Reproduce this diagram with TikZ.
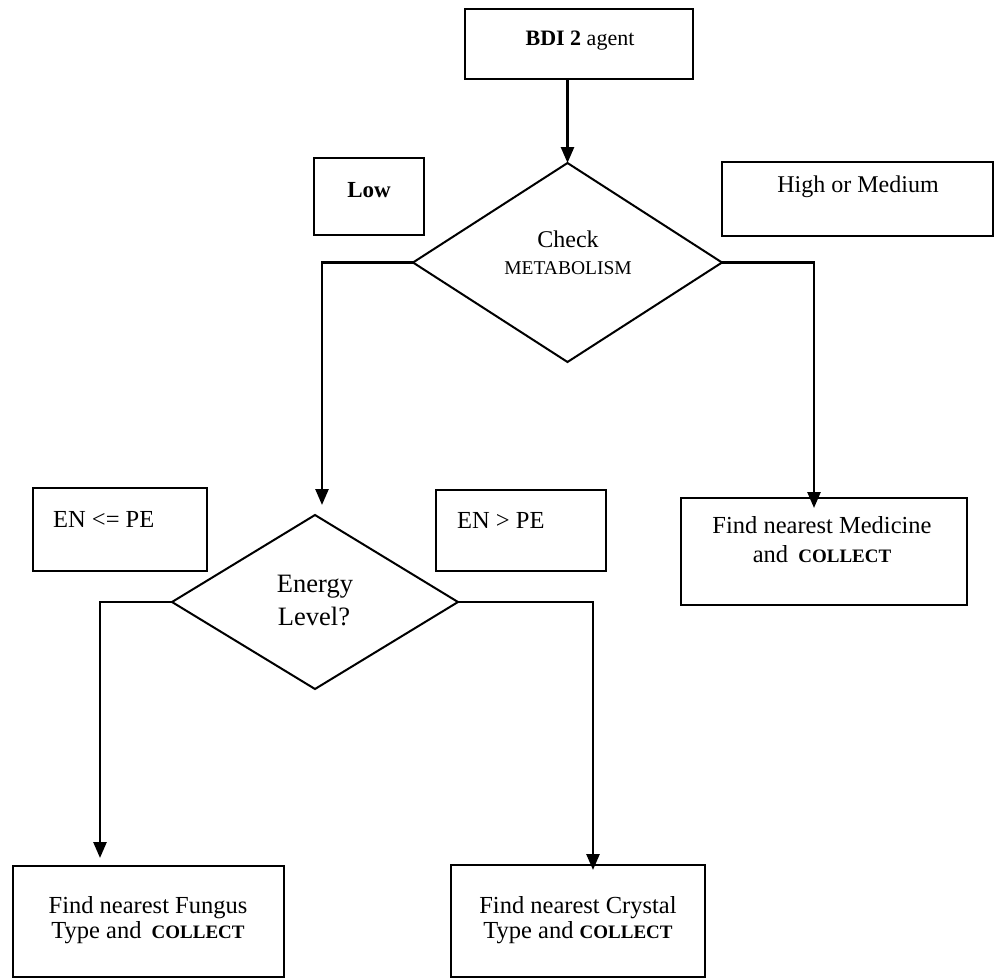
\documentclass[tikz,border=0pt]{standalone}
\usepackage{fontspec}
\setmainfont{Liberation Serif}
\usetikzlibrary{arrows.meta,shapes.geometric,calc}
\newcommand\setfs[1]{\fontsize{#1}{#1}\selectfont}

\begin{document}
\begin{tikzpicture}[x=1pt,y=-1pt,
  frame/.style={draw, line width=1.8pt, inner sep=0pt, outer sep=0pt, anchor=north west},
  decision/.style={diamond, draw, line width=2pt, inner sep=0pt, outer sep=0pt},
  conn/.style={line width=2.6pt, -{Triangle[width=13pt,length=16pt]}},
  txt/.style={inner sep=0pt, anchor=base},
  body/.style={txt, font=\setfs{24.5}},
  caps/.style={font=\setfs{19}\bfseries}
]
\useasboundingbox (0,0) rectangle (994,980);

% start box
\node[frame, minimum width=228pt, minimum height=70pt] (bdi) at (465,9) {};
\node[txt, font=\setfs{22}] (bdiT) at (580,45) {\textbf{BDI 2} agent};

% first decision
\node[decision, minimum width=309pt, minimum height=199pt] (check) at (567.5,262.5) {};
\node[txt, font=\setfs{24}] (checkA) at (568,247) {Check};
\node[txt, font=\setfs{19.5}] (checkB) at (568,274) {METABOLISM};

% branch labels of the first decision
\node[frame, minimum width=110pt, minimum height=77pt] (low) at (314,158) {};
\node[txt, font=\setfs{23}\bfseries] (lowT) at (369,197) {Low};
\node[frame, minimum width=271pt, minimum height=74pt] (high) at (722,162) {};
\node[txt, font=\setfs{24}] (highT) at (858,192) {High or Medium};

% medicine action
\node[frame, minimum width=286pt, minimum height=107pt] (med) at (681,498) {};
\node[body] (medA) at (822,533) {Find nearest Medicine};
\node[body] (medB) at (822,562) {and \,{\setfs{19}\bfseries COLLECT}};

% second decision
\node[decision, minimum width=286pt, minimum height=174pt] (energy) at (315,602) {};
\node[txt, font=\setfs{26.5}] (energyA) at (315,592) {Energy};
\node[txt, font=\setfs{26.5}] (energyB) at (314,625) {Level?};

% branch labels of the second decision
\node[frame, minimum width=174pt, minimum height=83pt] (le) at (33,488) {};
\node[body, anchor=base west] (leT) at (53,527) {EN <= PE};
\node[frame, minimum width=170pt, minimum height=81pt] (gt) at (436,490) {};
\node[body, anchor=base west] (gtT) at (457,528) {EN > PE};

% collect actions
\node[frame, minimum width=271pt, minimum height=111pt] (fungus) at (13,866) {};
\node[body] (fungusA) at (148,913) {Find nearest Fungus};
\node[body] (fungusB) at (148,938) {Type and \,{\setfs{19}\bfseries COLLECT}};
\node[frame, minimum width=254pt, minimum height=112pt] (crystal) at (451,865) {};
\node[body] (crystalA) at (578,913) {Find nearest Crystal};
\node[body] (crystalB) at (578,938) {Type and {\setfs{19}\bfseries COLLECT}};

% connectors
\draw[conn] (bdi.south -| check.north) -- (check.north);
\draw[conn] (check.west) -| ([xshift=7pt,yshift=10pt]energy.north);
\draw[conn, shorten >=-10pt] (check.east) -| ([xshift=-10pt]med.north);
\draw[conn, shorten >=8pt] (energy.west) -| ([xshift=-48.5pt]fungus.north);
\draw[conn, shorten >=-5pt] (energy.east) -| ([xshift=15pt]crystal.north);
\end{tikzpicture}
\end{document}
